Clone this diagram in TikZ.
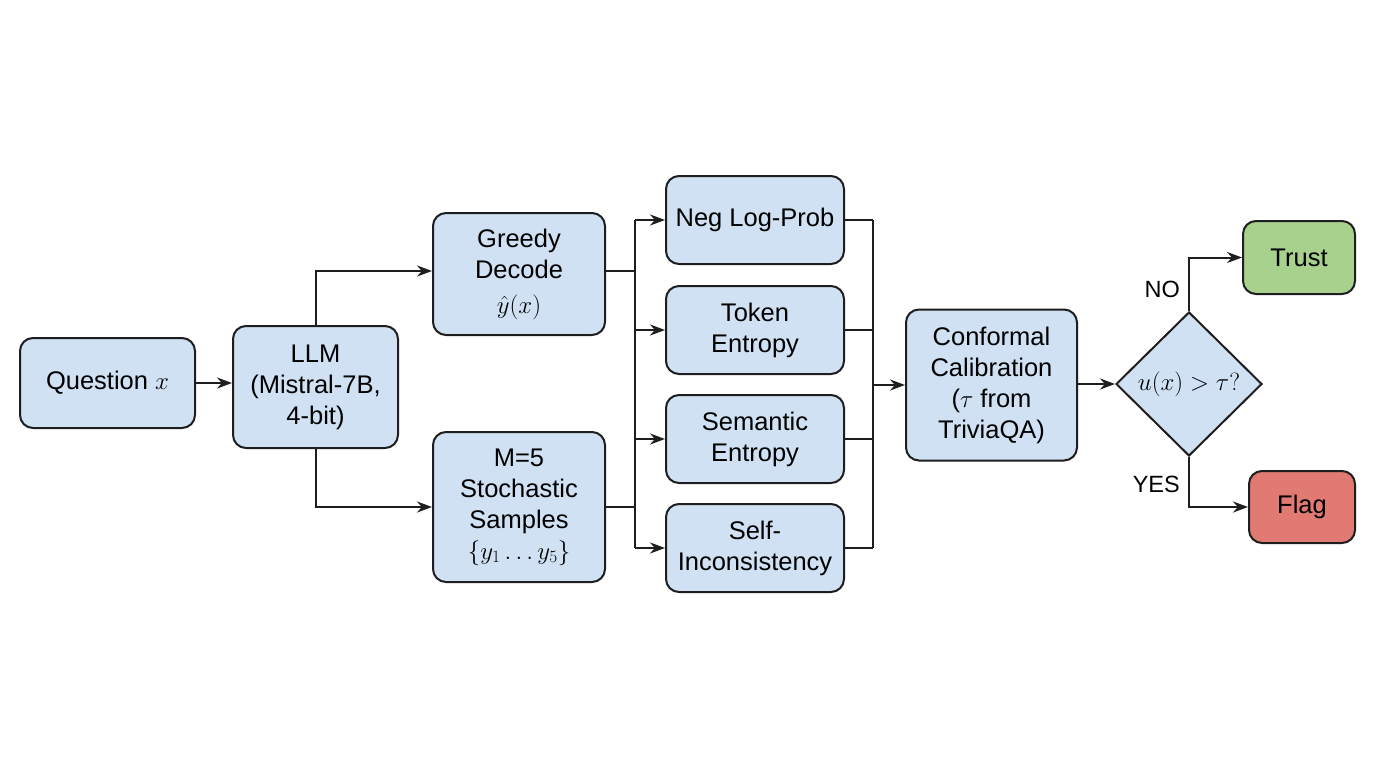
\documentclass[tikz,border=0pt]{standalone}
\usepackage{fontspec}
\setmainfont{Liberation Sans}
\usetikzlibrary{shapes.geometric,arrows.meta}
\definecolor{boxblue}{HTML}{CFE1F2}
\definecolor{boxgreen}{HTML}{A9D18E}
\definecolor{boxred}{HTML}{E07A73}
\definecolor{edge}{HTML}{1E1E1E}
\tikzset{
  box/.style={draw=edge, line width=2pt, rounded corners=13pt, fill=boxblue, align=center,
    font=\fontsize{25.5}{31}\selectfont, inner sep=0pt},
  dec/.style={draw=edge, line width=2pt, shape=diamond, fill=boxblue, align=center,
    font=\fontsize{25.5}{31}\selectfont, inner sep=0pt},
  lbl/.style={font=\fontsize{23.5}{26}\selectfont, inner sep=0pt},
  arr/.style={draw=edge, line width=2pt, -{Stealth[length=15pt,width=11pt]}},
  ln/.style={draw=edge, line width=2pt}
}
\begin{document}
\begin{tikzpicture}[x=1pt,y=-1pt]
\useasboundingbox[fill=white] (0,0) rectangle (1376,768);
\node[box, minimum width=175pt, minimum height=90pt] (q) at (107.5,383) {Question $x$};
\node[box, minimum width=165pt, minimum height=122pt] (llm) at (315.5,387) {LLM\\(Mistral-7B,\\4-bit)};
\node[box, minimum width=172pt, minimum height=122pt] (greedy) at (519,274) {Greedy\\Decode\\[4pt]$\hat{y}(x)$};
\node[box, minimum width=172pt, minimum height=150pt] (stoch) at (519,507) {M=5\\Stochastic\\Samples\\$\{y_1 \ldots y_5\}$};
\node[box, minimum width=178pt, minimum height=88pt] (nlp) at (755,220) {Neg Log-Prob};
\node[box, minimum width=178pt, minimum height=88pt] (tok) at (755,330) {Token\\Entropy};
\node[box, minimum width=178pt, minimum height=88pt] (sem) at (755,439) {Semantic\\Entropy};
\node[box, minimum width=178pt, minimum height=88pt] (self) at (755,548) {Self-\\Inconsistency};
\node[box, minimum width=171pt, minimum height=151pt] (conf) at (991.5,385) {Conformal\\Calibration\\($\tau$ from\\TriviaQA)};
\node[dec, minimum width=146pt, minimum height=144pt] (dia) at (1189,384) {$u(x) > \tau?$};
\node[box, fill=boxgreen, minimum width=112pt, minimum height=73pt] (trust) at (1299,257.5) {Trust};
\node[box, fill=boxred, minimum width=106pt, minimum height=72pt] (flag) at (1302,507) {Flag};
\node[lbl, anchor=east] (no) at (1180,289) {NO};
\node[lbl, anchor=east] (yes) at (1180,484) {YES};
\coordinate (bl) at (635,0);
\coordinate (br) at (873,0);
% edges
\draw[arr] (q.east) -- (q.east -| llm.west);
\draw[arr] (llm.north) |- ([yshift=3pt]greedy.west);
\draw[arr] (llm.south) |- (stoch.west);
\draw[ln] ([yshift=3pt]greedy.east) -- ([yshift=3pt]greedy.east -| bl);
\draw[ln] (stoch.east) -- (stoch.east -| bl);
\draw[ln] (bl |- nlp.west) -- (bl |- self.west);
\draw[arr] (bl |- nlp.west) -- (nlp.west);
\draw[arr] (bl |- tok.west) -- (tok.west);
\draw[arr] (bl |- sem.west) -- (sem.west);
\draw[arr] (bl |- self.west) -- (self.west);
\draw[ln] (nlp.east) -- (nlp.east -| br);
\draw[ln] (tok.east) -- (tok.east -| br);
\draw[ln] (sem.east) -- (sem.east -| br);
\draw[ln] (self.east) -- (self.east -| br);
\draw[ln] (br |- nlp.east) -- (br |- self.east);
\draw[arr] (br |- conf.west) -- (conf.west);
\draw[arr] (conf.east |- dia.west) -- (dia.west);
\draw[arr] (dia.north) |- (trust.west);
\draw[arr] (dia.south) |- (flag.west);
\end{tikzpicture}
\end{document}
